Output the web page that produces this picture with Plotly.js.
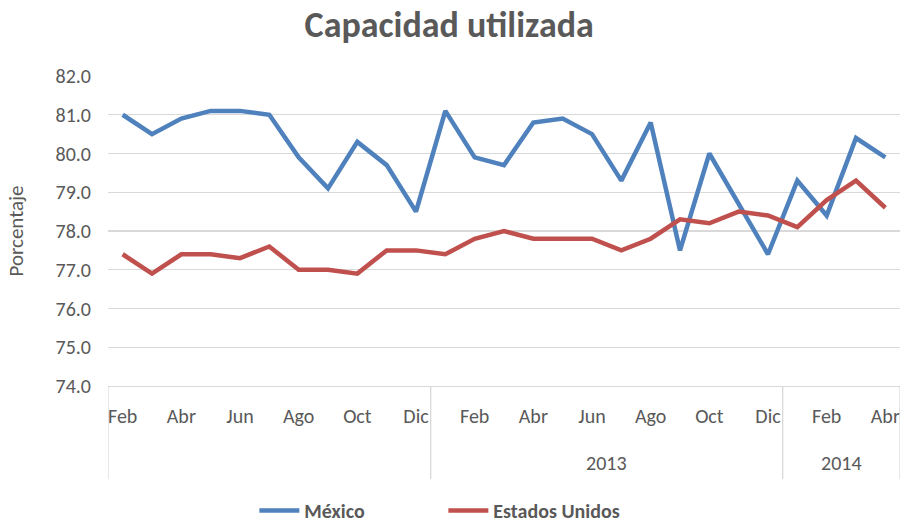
<!DOCTYPE html>
<html>
<head>
<meta charset="utf-8">
<script src="https://cdn.plot.ly/plotly-3.0.1.min.js"></script>
<style>html,body{margin:0;padding:0;background:#fff;}#chart{width:902px;height:524px;}</style>
</head>
<body>
<div id="chart"></div>
<script>
const months = ["Feb","Mar","Abr","May","Jun","Jul","Ago","Sep","Oct","Nov","Dic",
  "Ene","Feb","Mar","Abr","May","Jun","Jul","Ago","Sep","Oct","Nov","Dic",
  "Ene","Feb","Mar","Abr"];
const years = ["2012","2012","2012","2012","2012","2012","2012","2012","2012","2012","2012",
  "2013","2013","2013","2013","2013","2013","2013","2013","2013","2013","2013","2013",
  "2014","2014","2014","2014"];
const yearLabels = {"2012": "", "2013": "2013", "2014": "2014"};
const mexico = [81.0,80.5,80.9,81.1,81.1,81.0,79.9,79.1,80.3,79.7,78.5,
  81.1,79.9,79.7,80.8,80.9,80.5,79.3,80.8,77.5,80.0,78.7,77.4,
  79.3,78.4,80.4,79.9];
const eeuu = [77.4,76.9,77.4,77.4,77.3,77.6,77.0,77.0,76.9,77.5,77.5,
  77.4,77.8,78.0,77.8,77.8,77.8,77.5,77.8,78.3,78.2,78.5,78.4,
  78.1,78.8,79.3,78.6];
const yTicks = [74,75,76,77,78,79,80,81,82];

const FONT = "Carlito, Calibri, 'Open Sans', sans-serif";
const GRAY = "#595959";
const idx = months.map((m,i)=>i);

const groups = [];
years.forEach((y,i)=>{
  if (!groups.length || groups[groups.length-1].year !== y) groups.push({year:y,start:i,end:i});
  else groups[groups.length-1].end = i;
});
const shapes = [];
const annotations = [];
groups.forEach((g,k)=>{
  shapes.push({type:'line', xref:'x', yref:'paper', x0:g.start-0.5, x1:g.start-0.5, y0:0, y1:-0.3, line:{color:'#d9d9d9', width:1.3}});
  if (k === groups.length-1) shapes.push({type:'line', xref:'x', yref:'paper', x0:g.end+0.5, x1:g.end+0.5, y0:0, y1:-0.3, line:{color:'#d9d9d9', width:1.3}});
  annotations.push({xref:'x', yref:'paper', x:(g.start+g.end)/2, y:-0.248, text:yearLabels[g.year], showarrow:false, yanchor:'middle', font:{family:FONT, size:20, color:GRAY}});
});

const tickvals = idx.filter(i=>i%2===0);
const ticktext = tickvals.map(i=>months[i]);

const data = [
  {x: idx, y: mexico, name:'<b>México</b>', type:'scatter', mode:'lines', line:{color:'#4F81BD', width:4.5}},
  {x: idx, y: eeuu, name:'<b>Estados Unidos</b>', type:'scatter', mode:'lines', line:{color:'#C0504D', width:4.5}}
];
const layout = {
  width:902, height:524,
  margin:{l:108, r:2, t:76, b:138},
  paper_bgcolor:'#fff', plot_bgcolor:'#fff',
  font:{family:FONT, color:GRAY, size:20},
  title:{text:'<b>Capacidad utilizada</b>', x:0.498, xref:'container', xanchor:'center', y:0.954, yref:'container', yanchor:'middle', font:{family:FONT, size:36, color:GRAY}},
  xaxis:{range:[-0.5, idx.length-0.5], tickvals:tickvals, ticktext:ticktext, showgrid:false, zeroline:false,
    showline:true, linecolor:'#d9d9d9', linewidth:1.3, ticks:'', ticklabelstandoff:12, tickfont:{size:20, color:GRAY}, fixedrange:true},
  yaxis:{range:[74,82], tickvals:yTicks, ticktext:yTicks.map(v=>v.toFixed(1)), showgrid:true, gridcolor:'#d9d9d9', gridwidth:1.3,
    zeroline:false, showline:false, ticks:'', ticklabelstandoff:16, tickfont:{size:20, color:GRAY},
    title:{text:'Porcentaje', font:{size:21, color:GRAY}, standoff:26}},
  showlegend:true,
  legend:{orientation:'h', x:0.282, xanchor:'left', xref:'container', y:0.026, yref:'container', yanchor:'middle', font:{family:FONT, size:20, color:GRAY}, itemwidth:40, entrywidth:134},
  shapes:shapes, annotations:annotations
};
Plotly.newPlot('chart', data, layout, {displayModeBar:false, staticPlot:true});
</script>
</body>
</html>
